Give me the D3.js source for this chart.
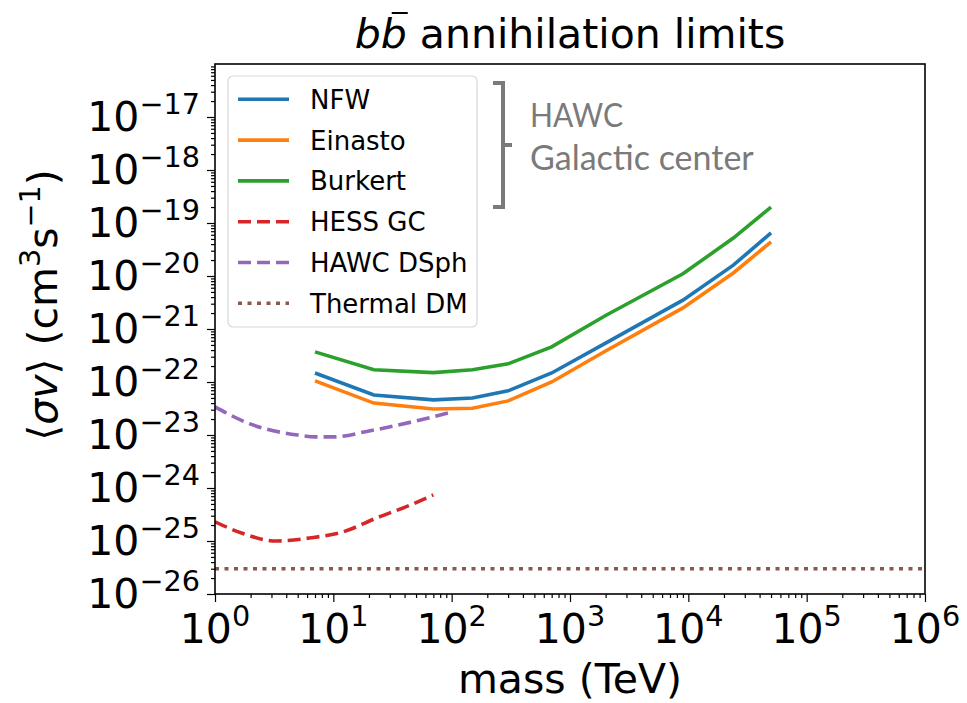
<!DOCTYPE html>
<html>
<head>
<meta charset="utf-8">
<script src="https://cdn.jsdelivr.net/npm/d3@7"></script>
<style>
  body { margin: 0; background: #fff; }
  text { font-family: "DejaVu Sans", sans-serif; }
</style>
</head>
<body>
<script>
// HAWC Galactic center limits, one mass grid for the three halo profiles (TeV)
const massHAWC = [7, 22, 70, 150, 300, 700, 2000, 9000, 24000, 50000];
const nfw      = [1.48e-22, 5.7e-23, 4.6e-23, 5.0e-23, 6.8e-23, 1.48e-22, 5.4e-22, 3.5e-21, 1.6e-20, 6.5e-20];
const einasto  = [1.05e-22, 4.0e-23, 3.1e-23, 3.2e-23, 4.4e-23, 1.0e-22, 3.85e-22, 2.5e-21, 1.14e-20, 4.4e-20];
const burkert  = [3.7e-22, 1.7e-22, 1.5e-22, 1.7e-22, 2.2e-22, 4.6e-22, 1.8e-21, 1.1e-20, 5.2e-20, 2.0e-19];

// other experiments
const massHESS = [1, 1.7, 3.3, 6.3, 12, 23, 45, 70];
const hessGC   = [2.3e-25, 1.4e-25, 1.0e-25, 1.14e-25, 1.48e-25, 2.7e-25, 4.8e-25, 7.4e-25];
const massDSph = [1, 2, 5, 7, 10, 20, 50, 100];
const hawcDSph = [3.4e-23, 1.6e-23, 1.0e-23, 9.2e-24, 9.2e-24, 1.19e-23, 1.84e-23, 2.7e-23];
const massThermal = [1, 1e6];
const thermal     = [3e-26, 3e-26];

const xTicks = [1, 10, 100, 1e3, 1e4, 1e5, 1e6];
const xExp   = ["0", "1", "2", "3", "4", "5", "6"];
const yTicks = [1e-26, 1e-25, 1e-24, 1e-23, 1e-22, 1e-21, 1e-20, 1e-19, 1e-18, 1e-17];
const yExp   = ["−26", "−25", "−24", "−23", "−22", "−21", "−20", "−19", "−18", "−17"];

const legendNames = ["NFW", "Einasto", "Burkert", "HESS GC", "HAWC DSph", "Thermal DM"];
const colors = ["#1f77b4", "#ff7f0e", "#2ca02c", "#d62728", "#9467bd", "#8c564b"];
const dashes = [null, null, null, "13,6", "13,6", "4,5.5"];

const W = 967, H = 703;
const box = {left: 215, right: 925, top: 64, bottom: 594};
const fs = 41;

const x = d3.scaleLog().domain([1, 1e6]).range([box.left, box.right]);
const y = d3.scaleLog().domain([1e-26, 1e-16]).range([box.bottom, box.top]);

const svg = d3.select("body").append("svg").attr("width", W).attr("height", H);

// minor ticks 2..9 of each decade
function minors(lo, hi) {
  let out = [];
  for (let e = lo; e < hi; e++) {
    for (let k = 2; k < 10; k++) out.push(k * Math.pow(10, e));
  }
  return out;
}

// axes, ticks only (labels are drawn below as 10^n)
svg.append("g").attr("transform", `translate(0,${box.bottom})`)
  .call(d3.axisBottom(x).tickValues(xTicks).tickFormat("").tickSizeOuter(0).tickSize(8))
  .call(g => g.select(".domain").remove());
svg.append("g").attr("transform", `translate(0,${box.bottom})`)
  .call(d3.axisBottom(x).tickValues(minors(0, 6)).tickFormat("").tickSizeOuter(0).tickSize(4))
  .call(g => g.select(".domain").remove());
svg.append("g").attr("transform", `translate(${box.left},0)`)
  .call(d3.axisLeft(y).tickValues(yTicks).tickFormat("").tickSizeOuter(0).tickSize(8))
  .call(g => g.select(".domain").remove());
svg.append("g").attr("transform", `translate(${box.left},0)`)
  .call(d3.axisLeft(y).tickValues(minors(-26, -16)).tickFormat("").tickSizeOuter(0).tickSize(4))
  .call(g => g.select(".domain").remove());
svg.selectAll(".tick line").attr("stroke", "#000").attr("stroke-width", 1.2);

function pow10(t, exp) {
  t.append("tspan").text("10");
  t.append("tspan").attr("dy", -0.42 * fs).attr("font-size", 0.7 * fs).text(exp);
}

xTicks.forEach((v, i) => {
  svg.append("text").attr("x", x(v)).attr("y", 643).attr("text-anchor", "middle")
    .attr("font-size", fs).call(pow10, xExp[i]);
});
yTicks.forEach((v, i) => {
  svg.append("text").attr("x", 200).attr("y", y(v) + 14).attr("text-anchor", "end")
    .attr("font-size", fs).call(pow10, yExp[i]);
});

// curves
const series = [
  [massHAWC, nfw], [massHAWC, einasto], [massHAWC, burkert],
  [massHESS, hessGC], [massDSph, hawcDSph], [massThermal, thermal]
];
const clip = svg.append("clipPath").attr("id", "clip").append("rect")
  .attr("x", box.left).attr("y", box.top)
  .attr("width", box.right - box.left).attr("height", box.bottom - box.top);

const plot = svg.append("g").attr("clip-path", "url(#clip)");
series.forEach((s, i) => {
  const pts = s[0].map((m, j) => [m, s[1][j]]);
  const line = d3.line().x(d => x(d[0])).y(d => y(d[1]))
    .curve(i < 3 ? d3.curveLinear : d3.curveMonotoneX);
  plot.append("path").attr("d", line(pts)).attr("fill", "none")
    .attr("stroke", colors[i]).attr("stroke-width", 3.6)
    .attr("stroke-dasharray", dashes[i]);
});

// frame
svg.append("rect").attr("x", box.left).attr("y", box.top)
  .attr("width", box.right - box.left).attr("height", box.bottom - box.top)
  .attr("fill", "none").attr("stroke", "#000").attr("stroke-width", 1.6);

// legend
const lg = svg.append("g");
lg.append("rect").attr("x", 228).attr("y", 76).attr("width", 249).attr("height", 251)
  .attr("rx", 5).attr("fill", "#fff").attr("stroke", "#d8d8d8").attr("stroke-width", 1.2);
legendNames.forEach((name, i) => {
  const ry = 99.3 + i * 40.8;
  lg.append("line").attr("x1", 238).attr("x2", 289).attr("y1", ry).attr("y2", ry)
    .attr("stroke", colors[i]).attr("stroke-width", 3.6).attr("stroke-dasharray", dashes[i]);
  lg.append("text").attr("x", 310).attr("y", ry + 9.5).attr("font-size", 26).text(name);
});

// bracket annotation
const gray = "#7a7a7a";
svg.append("path")
  .attr("d", "M493,83 H503 V207 H493 M503,145 H512")
  .attr("fill", "none").attr("stroke", gray).attr("stroke-width", 4);
svg.append("text").attr("x", 530).attr("y", 127).attr("fill", gray)
  .style("font-family", "Lato, sans-serif").attr("font-size", 33)
  .attr("textLength", 93).attr("lengthAdjust", "spacingAndGlyphs").text("HAWC");
svg.append("text").attr("x", 530).attr("y", 170).attr("fill", gray)
  .style("font-family", "Lato, sans-serif").attr("font-size", 34).text("Galactic center");

// title
const title = svg.append("text").attr("x", 570).attr("y", 48).attr("text-anchor", "middle")
  .attr("font-size", fs);
title.append("tspan").attr("font-style", "italic").text("bb");
title.append("tspan").text(" annihilation limits");
const b0 = title.node().getStartPositionOfChar(1).x;
const b1 = title.node().getEndPositionOfChar(1).x;
svg.append("line").attr("x1", b0 + 11).attr("x2", b1 + 1).attr("y1", 13).attr("y2", 13)
  .attr("stroke", "#000").attr("stroke-width", 2);

// axis labels
svg.append("text").attr("x", 570).attr("y", 693).attr("text-anchor", "middle")
  .attr("font-size", fs).text("mass (TeV)");

const yl = svg.append("text").attr("transform", "translate(57,305) rotate(-90)")
  .attr("text-anchor", "middle").attr("font-size", fs);
yl.append("tspan").text("⟨");
yl.append("tspan").attr("font-style", "italic").text("σv");
yl.append("tspan").text("⟩ (cm");
yl.append("tspan").attr("dy", -0.42 * fs).attr("font-size", 0.7 * fs).text("3");
yl.append("tspan").attr("dy", 0.42 * fs).text("s");
yl.append("tspan").attr("dy", -0.42 * fs).attr("font-size", 0.7 * fs).text("−1");
yl.append("tspan").attr("dy", 0.42 * fs).text(")");
</script>
</body>
</html>
